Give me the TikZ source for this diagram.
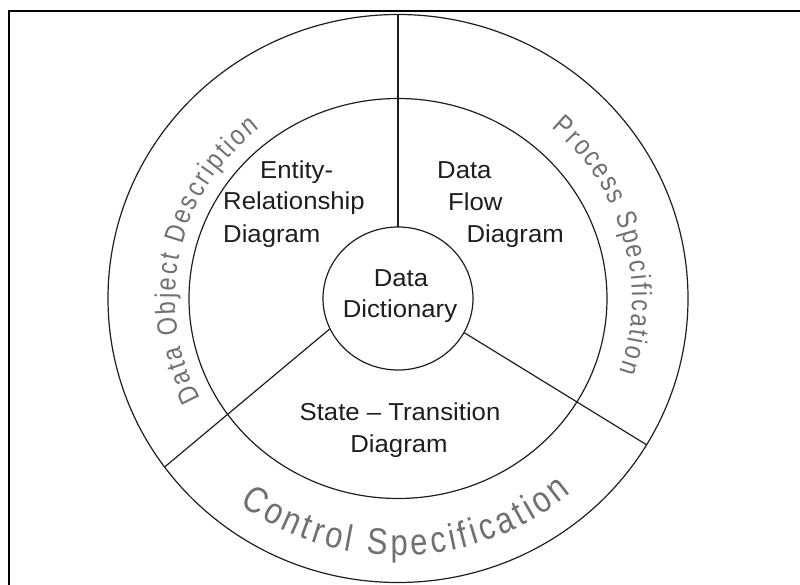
\documentclass[tikz,border=0pt]{standalone}
\usepackage{fontspec}
\setmainfont{Liberation Sans}
\newfontfamily\labfont{Liberation Sans}[FakeStretch=1.05]
\newfontfamily\curvefont{Liberation Sans}[FakeStretch=0.84]
\usetikzlibrary{decorations.text,calc}
\definecolor{ringgray}{RGB}{112,112,112}
\definecolor{inkc}{RGB}{30,30,30}
\newcommand\cfside{\curvefont\fontsize{28}{28}\selectfont}
\newcommand\cfbottom{\curvefont\fontsize{37}{37}\selectfont}
\begin{document}
\begin{tikzpicture}[x=1pt,y=1pt,
  ring/.style={line width=1.2pt, draw=inkc},
  lab/.style={font=\labfont\fontsize{24.5}{29}\selectfont, inner sep=0pt, text=inkc},
]
\useasboundingbox (0,0) rectangle (800,584);
\coordinate (C) at (398,285.5);
% frame (only top and left visible)
\draw[line width=2pt] (9,-20) -- (9,573) -- (830,573);
% rings
\draw[ring] (C) ellipse [x radius=75pt, y radius=71.5pt];
\draw[ring] (C) ellipse [x radius=209pt, y radius=200pt];
\draw[ring] (C) ellipse [x radius=290pt, y radius=284pt];
% dividers
\path (C) ++(90:75pt and 71.5pt) coordinate (iT);
\path (C) ++(90:290pt and 284pt) coordinate (oT);
\path (C) ++(205:75pt and 71.5pt) coordinate (iL);
\path (C) ++(216.4:290pt and 284pt) coordinate (oL);
\path (C) ++(331.6:75pt and 71.5pt) coordinate (iR);
\path (C) ++(329:290pt and 284pt) coordinate (oR);
\draw[ring] (oT) -- (iT);
\draw[ring] (iL) -- (oL);
\draw[ring] (iR) -- (oR);
% inner labels
\node[lab, anchor=base west] (er1) at (260, 584-179) {Entity-};
\node[lab, anchor=base west] (er2) at (223, 584-210) {Relationship};
\node[lab, anchor=base west] (er3) at (223, 584-243) {Diagram};
\node[lab, anchor=base west] (df1) at (437, 584-179) {Data};
\node[lab, anchor=base west] (df2) at (448, 584-211) {Flow};
\node[lab, anchor=base east] (df3) at (564, 584-243) {Diagram};
\node[lab, anchor=base] (dd1) at (401, 584-287) {Data};
\node[lab, anchor=base] (dd2) at (400, 584-318) {Dictionary};
\node[lab, anchor=base] (st1) at (400, 584-420) {State – Transition};
\node[lab, anchor=base] (st2) at (399, 584-452) {Diagram};
% curved labels
\path[decorate, decoration={text effects along path, text={Data Object Description}, text align=center,
  text effects/.cd, characters={text along path, font=\cfside, text=ringgray, inner xsep=1.2pt}}]
  ($(C)+(208:223pt and 216pt)$) arc[start angle=208, end angle=128, x radius=223pt, y radius=216pt];
\path[decorate, decoration={text effects along path, text={Process Specification}, text align=center,
  text effects/.cd, characters={text along path, font=\cfside, text=ringgray, inner xsep=1.1pt}}]
  ($(C)+(56:234pt and 226pt)$) arc[start angle=56, end angle=-26, x radius=234pt, y radius=226pt];
\path[decorate, decoration={text effects along path, text={Control Specification}, text align=center,
  text effects/.cd, characters={text along path, font=\cfbottom, text=ringgray, inner xsep=1.8pt}}]
  ($(C)+(227:265pt and 257pt)$) arc[start angle=227, end angle=317, x radius=265pt, y radius=257pt];
\end{tikzpicture}
\end{document}
